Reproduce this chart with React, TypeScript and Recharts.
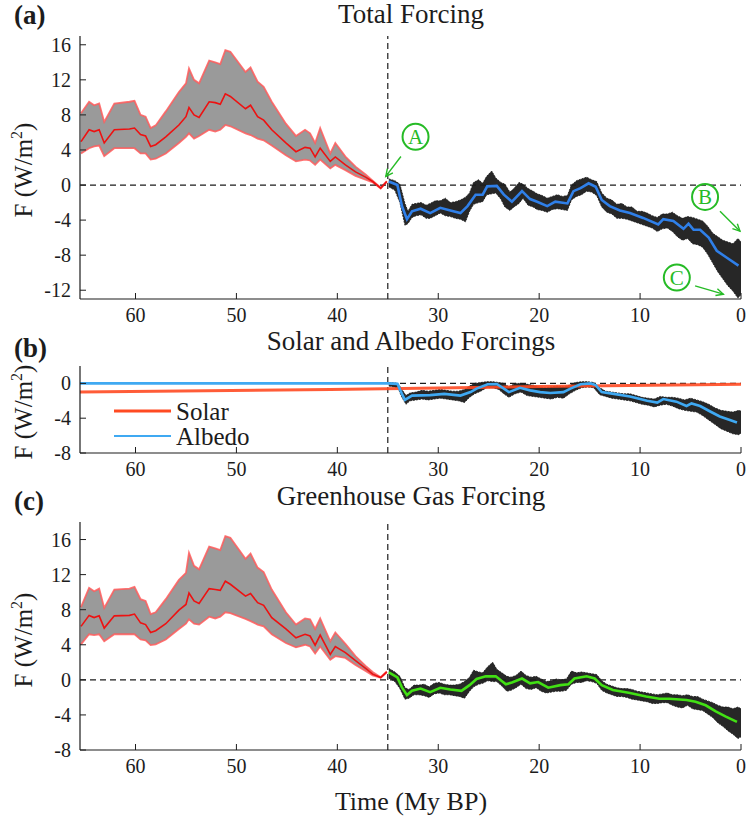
import {
  Area, ComposedChart, Line, ReferenceDot, ReferenceLine, XAxis, YAxis,
} from "recharts";

const SERIF = "'Liberation Serif', 'Times New Roman', serif";
const INK = "#1c1c1c";
const GREEN = "#26bb26";
const W = 746;

// ---- shared x grid (My BP) ----
const xTicks = [0, 10, 20, 30, 40, 50, 60];

// ---- 66–35 My: probabilistic band (shared time points for a and c) ----
const redT = [65.4, 64.6, 64.1, 63.6, 63.1, 62.1, 60.6, 60.1, 59.5, 59.0, 58.5, 58.0, 57.0, 55.7, 55.0, 54.7, 54.2, 53.7, 52.7, 52.1, 51.6, 51.1, 50.6, 49.1, 48.6, 47.9, 47.3, 46.5, 45.1, 44.1, 43.2, 42.7, 42.2, 41.7, 40.7, 40.2, 39.2, 38.2, 37.2, 36.5, 35.7, 35.1];

const totHi = [8.2, 9.5, 9.1, 9.3, 7.2, 9.3, 9.5, 9.6, 8.0, 7.8, 6.5, 6.8, 8.4, 10.6, 11.6, 13.3, 12.0, 11.6, 14.2, 14.0, 13.8, 15.4, 15.2, 12.9, 13.4, 11.8, 11.2, 9.5, 7.0, 5.6, 6.3, 5.9, 4.8, 6.5, 3.6, 4.8, 3.25, 2.1, 1.2, 0.5, -0.3, 0.45];
const totMean = [4.95, 6.3, 6.1, 6.3, 4.8, 6.3, 6.4, 6.5, 5.75, 5.6, 4.4, 4.6, 5.5, 6.85, 7.8, 8.85, 8.0, 7.7, 9.5, 9.4, 9.2, 10.4, 10.1, 8.7, 9.1, 7.8, 7.4, 6.3, 4.8, 3.8, 4.3, 4.2, 3.2, 4.2, 2.7, 3.2, 2.3, 1.5, 0.9, 0.4, -0.35, 0.4];
const totLo = [3.6, 4.2, 4.4, 4.5, 3.3, 4.2, 4.2, 4.2, 3.6, 3.6, 2.9, 3.0, 3.6, 4.8, 5.5, 5.9, 5.3, 5.6, 6.3, 6.1, 6.3, 6.85, 6.7, 5.9, 5.7, 5.3, 5.1, 4.5, 3.4, 2.7, 2.9, 2.8, 2.3, 2.9, 1.9, 2.3, 1.7, 1.05, 0.6, 0.3, -0.4, 0.35];

const ghgHi = [8.3, 10.5, 10.1, 10.4, 8.2, 10.3, 10.4, 10.6, 9.2, 9.0, 7.5, 7.7, 9.2, 11.4, 12.2, 14.5, 13.0, 12.6, 15.2, 15.0, 14.8, 16.4, 16.2, 13.8, 14.4, 12.8, 12.3, 10.3, 7.7, 6.3, 7.0, 6.9, 5.8, 7.0, 4.4, 5.4, 4.1, 2.7, 1.6, 0.9, 0.3, 0.95];
const ghgMean = [6.1, 7.35, 7.1, 7.3, 5.9, 7.3, 7.35, 7.5, 6.5, 6.3, 5.4, 5.6, 6.4, 7.95, 8.6, 9.9, 9.0, 8.7, 10.4, 10.3, 10.2, 11.25, 10.9, 9.55, 9.85, 8.8, 8.5, 7.1, 5.8, 4.8, 5.2, 5.0, 3.95, 5.1, 2.9, 3.8, 3.1, 2.2, 1.3, 0.65, 0.27, 0.9];
const ghgLo = [4.05, 5.2, 5.1, 5.2, 4.4, 5.2, 5.2, 5.2, 4.6, 4.5, 3.96, 4.05, 4.6, 5.8, 6.4, 6.9, 6.4, 6.3, 7.2, 7.0, 7.2, 7.7, 7.6, 6.95, 6.7, 6.3, 6.1, 5.2, 4.2, 3.7, 4.0, 3.8, 3.0, 3.8, 2.3, 2.7, 2.5, 1.7, 1.0, 0.5, 0.25, 0.85];

// ---- 35–0 My: scatter envelope (black) ----
const totNoiseT = [34.9, 34.3, 33.8, 33.3, 33.0, 32.6, 32.2, 31.7, 31.2, 30.8, 30.3, 29.8, 29.3, 28.8, 28.3, 27.8, 27.3, 26.9, 26.5, 26.0, 25.6, 25.2, 24.7, 24.3, 23.8, 23.4, 22.9, 22.5, 22.0, 21.6, 21.1, 20.6, 20.2, 19.7, 19.2, 18.7, 18.2, 17.7, 17.2, 16.8, 16.3, 15.8, 15.3, 14.8, 14.3, 13.8, 13.3, 12.8, 12.3, 11.8, 11.3, 10.8, 10.3, 9.8, 9.3, 8.8, 8.3, 7.8, 7.3, 6.8, 6.3, 5.8, 5.3, 4.8, 4.3, 3.8, 3.3, 2.8, 2.3, 1.8, 1.3, 0.8, 0.3, 0];
const totNoiseLo = [-0.2, -0.6, -2.0, -4.6, -4.4, -3.7, -3.5, -3.4, -3.8, -3.8, -3.5, -3.2, -3.5, -3.6, -3.8, -3.9, -4.2, -3.0, -2.2, -2.0, -1.9, -1.1, -1.0, -0.9, -1.6, -2.5, -2.9, -2.5, -2.1, -1.5, -2.3, -2.5, -2.8, -2.9, -3.1, -2.8, -2.7, -2.8, -2.9, -1.7, -1.3, -1.1, -0.7, -0.8, -1.2, -2.5, -3.1, -3.3, -3.8, -3.8, -3.9, -4.1, -4.3, -4.5, -4.7, -4.9, -5.3, -5.0, -4.9, -5.3, -5.9, -6.3, -6.1, -6.7, -6.8, -7.1, -7.9, -8.9, -9.9, -10.7, -11.5, -12.1, -12.9, -12.5];
const totNoiseHi = [0.7, 0.5, 0.1, -2.1, -3.0, -2.2, -2.1, -2.0, -2.3, -2.1, -1.8, -1.8, -1.5, -2.0, -1.9, -1.7, -1.4, -0.9, 0.3, 0.6, 0.2, 1.0, 1.6, 0.8, 0.3, 0.1, -0.8, -0.4, 0.3, 0.1, -0.4, -0.7, -1.0, -1.2, -1.5, -1.3, -1.1, -1.3, -1.2, 0.0, 0.5, 0.7, 0.9, 0.6, 0.4, -0.9, -1.5, -1.7, -2.2, -2.1, -2.5, -2.5, -3.0, -3.0, -3.2, -3.5, -3.7, -3.3, -3.3, -3.1, -3.5, -3.8, -3.6, -3.7, -3.9, -4.1, -4.7, -5.5, -5.9, -6.3, -6.5, -6.7, -6.1, -6.5];

const albNoiseT = [34.9, 34.0, 33.6, 33.2, 32.8, 32.2, 31.6, 31.0, 30.4, 29.8, 29.2, 28.6, 28.0, 27.4, 26.9, 26.4, 25.8, 25.2, 24.6, 24.0, 23.5, 23.0, 22.4, 21.8, 21.2, 20.6, 20.0, 19.4, 18.8, 18.2, 17.6, 17.0, 16.4, 15.8, 15.2, 14.6, 14.0, 13.4, 12.8, 12.2, 11.6, 11.0, 10.4, 9.8, 9.2, 8.6, 8.0, 7.4, 6.8, 6.2, 5.6, 5.0, 4.4, 3.8, 3.2, 2.6, 2.0, 1.4, 0.8, 0.2, 0];
const albNoiseLo = [-0.3, -0.5, -1.6, -2.4, -2.0, -1.9, -1.8, -1.9, -1.8, -1.7, -1.8, -1.9, -2.0, -2.2, -1.6, -1.2, -0.9, -0.5, -0.5, -0.7, -1.2, -1.6, -1.2, -1.0, -1.4, -1.5, -1.6, -1.7, -1.8, -1.6, -1.7, -1.2, -0.8, -0.5, -0.4, -0.5, -1.3, -1.5, -1.7, -1.8, -1.9, -2.0, -2.2, -2.4, -2.5, -2.7, -2.5, -2.4, -2.6, -2.9, -3.1, -3.2, -3.3, -3.7, -4.2, -4.7, -5.2, -5.5, -5.8, -5.9, -5.7];
const albNoiseHi = [0.1, 0.0, -0.7, -1.4, -1.1, -1.0, -0.8, -0.9, -0.8, -0.7, -0.8, -0.9, -0.9, -0.7, -0.3, 0.0, 0.1, 0.2, 0.2, 0.1, 0.0, -0.4, 0.0, 0.0, -0.1, -0.2, -0.4, -0.5, -0.4, -0.3, -0.4, -0.2, 0.1, 0.2, 0.2, 0.1, -0.5, -0.9, -1.0, -1.1, -1.2, -1.2, -1.4, -1.6, -1.7, -1.8, -1.5, -1.6, -1.6, -1.7, -1.9, -1.7, -1.9, -2.1, -2.4, -2.8, -3.1, -3.2, -3.3, -3.1, -3.2];

const ghgNoiseT = [34.9, 34.3, 33.8, 33.3, 32.9, 32.4, 31.9, 31.4, 30.9, 30.4, 29.9, 29.4, 28.9, 28.4, 27.9, 27.4, 26.9, 26.5, 26.0, 25.6, 25.1, 24.6, 24.2, 23.7, 23.2, 22.8, 22.3, 21.8, 21.3, 20.8, 20.3, 19.8, 19.3, 18.8, 18.3, 17.8, 17.3, 16.8, 16.3, 15.8, 15.3, 14.8, 14.3, 13.8, 13.3, 12.8, 12.3, 11.8, 11.3, 10.8, 10.3, 9.8, 9.3, 8.8, 8.3, 7.8, 7.3, 6.8, 6.3, 5.8, 5.3, 4.8, 4.3, 3.8, 3.3, 2.8, 2.3, 1.8, 1.3, 0.8, 0.3, 0];
const ghgNoiseLo = [0.2, -0.2, -1.0, -2.2, -2.1, -1.7, -1.7, -1.8, -2.0, -1.6, -1.5, -1.7, -1.7, -1.8, -1.9, -2.1, -1.3, -0.8, -0.5, -0.4, -0.1, -0.2, -0.2, -0.7, -1.3, -1.2, -0.9, -0.5, -1.0, -1.1, -0.9, -1.3, -1.5, -1.4, -1.3, -1.3, -1.2, -0.5, -0.3, -0.3, -0.1, -0.2, -0.4, -1.2, -1.5, -1.7, -1.9, -1.9, -2.0, -2.2, -2.3, -2.4, -2.5, -2.7, -2.7, -2.6, -2.6, -2.9, -3.1, -3.2, -2.9, -3.3, -3.4, -3.5, -3.9, -4.3, -4.9, -5.3, -5.8, -6.2, -6.7, -6.5];
const ghgNoiseHi = [1.3, 0.9, 0.4, -0.9, -1.1, -0.6, -0.6, -0.5, -0.8, -0.4, -0.3, -0.5, -0.6, -0.6, -0.5, -0.2, 0.3, 1.1, 0.9, 0.8, 1.5, 2.0, 1.2, 0.8, 0.4, 0.3, 0.5, 1.0, 0.5, 0.3, 0.4, 0.1, -0.2, -0.1, 0.1, 0.0, 0.1, 1.0, 0.8, 0.9, 0.8, 0.7, 0.6, -0.1, -0.5, -0.7, -0.9, -1.0, -1.0, -1.1, -1.3, -1.4, -1.5, -1.6, -1.7, -1.6, -1.5, -1.7, -1.7, -1.8, -1.7, -1.9, -1.9, -2.2, -2.4, -2.6, -2.9, -3.1, -3.1, -3.3, -3.1, -3.3];

// ---- 35–0 My: smoothed curves ----
const blueT = [34.9, 34.05, 33.6, 33.1, 32.6, 31.75, 30.8, 29.8, 28.8, 27.8, 27.1, 26.3, 25.6, 25.15, 24.2, 23.5, 22.7, 21.7, 20.9, 20.2, 19.2, 18.4, 17.2, 16.6, 15.9, 15.1, 14.4, 13.8, 13.0, 12.0, 11.0, 9.7, 8.2, 7.7, 6.7, 5.7, 5.2, 4.7, 4.05, 3.2, 2.4, 1.4, 0.25];
const totalSmooth = [0.4, 0.0, -2.4, -3.9, -3.0, -2.7, -3.2, -2.6, -2.9, -3.2, -2.4, -1.1, -1.1, -0.15, -0.1, -1.1, -1.9, -0.7, -1.6, -1.9, -2.4, -1.9, -2.1, -0.7, -0.35, 0.2, -0.2, -1.7, -2.4, -2.9, -3.2, -3.75, -4.5, -3.9, -4.1, -5.0, -4.4, -5.1, -5.1, -6.0, -7.5, -8.3, -9.2];

const albT = [65.5, 35.0, 34.05, 33.6, 33.3, 32.6, 30.8, 29.4, 27.8, 26.8, 26.2, 25.1, 24.2, 23.5, 23.0, 21.9, 20.9, 19.9, 18.9, 17.6, 16.9, 15.9, 14.9, 14.4, 13.8, 12.6, 11.0, 9.3, 8.3, 7.7, 6.4, 5.4, 4.9, 4.05, 3.1, 2.1, 1.1, 0.4];
const albedo = [0, 0, -0.05, -1.2, -1.9, -1.4, -1.35, -1.2, -1.4, -1.0, -0.6, -0.1, -0.07, -0.6, -1.0, -0.5, -0.8, -1.0, -1.1, -1.0, -0.6, -0.1, 0, -0.2, -1.0, -1.2, -1.5, -2.0, -2.2, -1.8, -2.1, -2.6, -2.3, -2.6, -3.2, -3.8, -4.2, -4.5];

const solarT = [65.5, 40.7, 20, 0];
const solar = [-1.0, -0.7, -0.37, -0.1];

const greenT = [34.9, 34.05, 33.6, 33.1, 32.6, 31.75, 30.8, 29.8, 28.8, 27.7, 26.9, 26.2, 25.3, 24.3, 23.3, 22.7, 21.7, 20.9, 20.1, 19.1, 17.9, 17.1, 16.5, 15.3, 14.5, 13.8, 12.7, 11.0, 9.4, 8.1, 7.1, 5.4, 4.5, 3.5, 2.5, 1.5, 0.4];
const ghgSmooth = [0.84, 0.27, -0.86, -1.74, -1.25, -1.0, -1.4, -0.9, -1.1, -1.25, -0.6, 0.1, 0.4, 0.4, -0.5, -0.3, 0.15, -0.4, -0.25, -0.9, -0.6, -0.5, 0.15, 0.4, 0.15, -0.6, -1.15, -1.5, -1.9, -2.15, -2.15, -2.3, -2.5, -2.9, -3.6, -4.2, -4.8];

// ---- annotations on panel (a): circled letter + arrow, in data coords ----
const markLabels = ["A", "B", "C"];
const markAt = [[32.25, 5.5], [3.56, -1.36], [6.36, -10.56]];
const arrowFrom = [[33.7, 3.25], [2.08, -3.0], [4.55, -11.5]];
const arrowTo = [[35.2, 0.98], [0.1, -5.27], [1.75, -12.45]];

const band = (t: number[], lo: number[], hi: number[], mean?: number[]) =>
  t.map((x, i) => ({ t: x, band: [lo[i], hi[i]], mean: mean ? mean[i] : null }));
const series = (t: number[], v: number[]) => t.map((x, i) => ({ t: x, v: v[i] }));

// inward ticks on all four sides, labels outside
const BottomTick = (p: any) => (
  <g>
    <line x1={p.x} x2={p.x} y1={p.y} y2={p.y - 6} stroke={INK} />
    <text x={p.x} y={p.y + 23} textAnchor="middle" fontSize={20} fontFamily={SERIF} fill={INK}>
      {p.payload.value}
    </text>
  </g>
);
const TopTick = (p: any) => <line x1={p.x} x2={p.x} y1={p.y} y2={p.y + 6} stroke={INK} />;
const LeftTick = (p: any) => (
  <g>
    <line x1={p.x} x2={p.x + 6} y1={p.y} y2={p.y} stroke={INK} />
    <text x={p.x - 9} y={p.y + 7} textAnchor="end" fontSize={20} fontFamily={SERIF} fill={INK}>
      {p.payload.value}
    </text>
  </g>
);
const RightTick = (p: any) => <line x1={p.x} x2={p.x - 6} y1={p.y} y2={p.y} stroke={INK} />;

const Arrow = (p: any) => {
  const { x1, y1, x2, y2 } = p;
  const a = Math.atan2(y2 - y1, x2 - x1);
  const L = 8;
  const h1 = `${x2 - L * Math.cos(a - 0.45)},${y2 - L * Math.sin(a - 0.45)}`;
  const h2 = `${x2 - L * Math.cos(a + 0.45)},${y2 - L * Math.sin(a + 0.45)}`;
  return (
    <g>
      <line x1={x1} y1={y1} x2={x2} y2={y2} stroke={GREEN} strokeWidth={1.4} />
      <polyline points={`${h1} ${x2},${y2} ${h2}`} fill="none" stroke={GREEN} strokeWidth={1.4} />
    </g>
  );
};

const frame = (domain: [number, number], ticks: number[]) => [
  <XAxis key="xb" xAxisId={0} dataKey="t" type="number" domain={[0, 65.5]} reversed allowDataOverflow
    ticks={xTicks} interval={0} tickSize={0} tickMargin={0} tickLine={false} tick={BottomTick}
    axisLine={{ stroke: INK, strokeWidth: 1.2 }} height={25} />,
  <XAxis key="xt" xAxisId="top" orientation="top" dataKey="t" type="number" domain={[0, 65.5]} reversed allowDataOverflow
    ticks={xTicks} interval={0} tickSize={0} tickMargin={0} tickLine={false} tick={TopTick}
    axisLine={{ stroke: INK, strokeWidth: 1.2 }} height={0} />,
  <YAxis key="yl" yAxisId={0} type="number" domain={domain} allowDataOverflow ticks={ticks} interval={0}
    tickSize={0} tickMargin={0} tickLine={false} tick={LeftTick}
    axisLine={{ stroke: INK, strokeWidth: 1.2 }} width={80} />,
  <YAxis key="yr" yAxisId="right" orientation="right" type="number" domain={domain} allowDataOverflow ticks={ticks}
    interval={0} tickSize={0} tickMargin={0} tickLine={false} tick={RightTick}
    axisLine={{ stroke: INK, strokeWidth: 1.2 }} width={0} />,
  <ReferenceLine key="h0" y={0} stroke={INK} strokeDasharray="6 4" strokeWidth={1.2} />,
  <ReferenceLine key="v35" x={35} stroke={INK} strokeDasharray="6 4" strokeWidth={1.2} />,
];

const redBand = (rows: any[]) => [
  <Area key="rb" data={rows} dataKey="band" type="linear" fill="#9a9a9a" fillOpacity={1}
    stroke="#ff5c5c" strokeWidth={1.8} strokeOpacity={0.85} isAnimationActive={false} />,
  <Line key="rm" data={rows} dataKey="mean" type="linear" stroke="#ee1111" strokeWidth={1.6}
    dot={false} isAnimationActive={false} />,
];
const noise = (rows: any[]) => (
  <Area key="nz" data={rows} dataKey="band" type="linear" fill="#151515" fillOpacity={0.92}
    stroke="#151515" strokeWidth={0.8} strokeDasharray="2 1" isAnimationActive={false} />
);

export default function App() {
  const rowsA = band(redT, totLo, totHi, totMean);
  const rowsC = band(redT, ghgLo, ghgHi, ghgMean);

  return (
    <div style={{ position: "absolute", left: 0, top: 0, width: W, height: 820, background: "#fff" }}>
      {/* (a) Total forcing */}
      <div style={{ position: "absolute", left: 0, top: 0 }}>
        <ComposedChart width={W} height={340} margin={{ top: 36, right: 5, bottom: 16, left: 0 }}>
          {frame([-13, 17], [-12, -8, -4, 0, 4, 8, 12, 16])}
          {redBand(rowsA)}
          {noise(band(totNoiseT, totNoiseLo, totNoiseHi))}
          <Line data={series(blueT, totalSmooth)} dataKey="v" type="linear" stroke="#2f7fe8" strokeWidth={2.6}
            dot={false} isAnimationActive={false} />
          {markLabels.map((m, i) => (
            <ReferenceLine key={"ar" + m} segment={[{ x: arrowFrom[i][0], y: arrowFrom[i][1] }, { x: arrowTo[i][0], y: arrowTo[i][1] }]}
              shape={Arrow} ifOverflow="visible" />
          ))}
          {markLabels.map((m, i) => (
            <ReferenceDot key={"mk" + m} x={markAt[i][0]} y={markAt[i][1]} r={13} ifOverflow="visible"
              shape={(p: any) => (
                <g>
                  <circle cx={p.cx} cy={p.cy} r={13} fill="none" stroke={GREEN} strokeWidth={2} />
                  <text x={p.cx} y={p.cy + 7.5} textAnchor="middle" fontSize={21} fontFamily={SERIF} fill={GREEN}>{m}</text>
                </g>
              )} />
          ))}
        </ComposedChart>
      </div>

      {/* (b) Solar and albedo */}
      <div style={{ position: "absolute", left: 0, top: 320 }}>
        <ComposedChart width={W} height={178} margin={{ top: 46, right: 5, bottom: 20, left: 0 }}>
          {frame([-8, 2], [-8, -4, 0])}
          {noise(band(albNoiseT, albNoiseLo, albNoiseHi))}
          <Line data={series(solarT, solar)} dataKey="v" type="linear" stroke="#ff4a22" strokeWidth={3}
            strokeOpacity={0.9} dot={false} isAnimationActive={false} />
          <Line data={series(albT, albedo)} dataKey="v" type="linear" stroke="#3fa9f2" strokeWidth={2.6}
            dot={false} isAnimationActive={false} />
        </ComposedChart>
      </div>

      {/* (c) Greenhouse gas */}
      <div style={{ position: "absolute", left: 0, top: 475 }}>
        <ComposedChart width={W} height={310} margin={{ top: 47, right: 5, bottom: 10, left: 0 }}>
          {frame([-8, 18], [-8, -4, 0, 4, 8, 12, 16])}
          {redBand(rowsC)}
          {noise(band(ghgNoiseT, ghgNoiseLo, ghgNoiseHi))}
          <Line data={series(greenT, ghgSmooth)} dataKey="v" type="linear" stroke="#42e014" strokeWidth={2.6}
            dot={false} isAnimationActive={false} />
        </ComposedChart>
      </div>

      {/* titles, axis labels, legend */}
      <svg width={W} height={820} style={{ position: "absolute", left: 0, top: 0, pointerEvents: "none" }}
        fontFamily={SERIF} fill={INK}>
        <text x={14} y={24} fontSize={27} fontWeight="bold">(a)</text>
        <text x={411} y={23} fontSize={27} textAnchor="middle">Total Forcing</text>
        <text x={14} y={357} fontSize={27} fontWeight="bold">(b)</text>
        <text x={411} y={350} fontSize={27} textAnchor="middle">Solar and Albedo Forcings</text>
        <text x={14} y={510} fontSize={27} fontWeight="bold">(c)</text>
        <text x={411} y={505} fontSize={27} textAnchor="middle">Greenhouse Gas Forcing</text>
        <text x={411} y={810} fontSize={26} textAnchor="middle">Time (My BP)</text>

        {[170, 412, 640].map((cy) => (
          <text key={cy} transform={`translate(32,${cy}) rotate(-90)`} fontSize={25} textAnchor="middle">
            F (W/m<tspan fontSize={16} dy={-10}>2</tspan><tspan dy={10}>)</tspan>
          </text>
        ))}

        <line x1={114} x2={171} y1={411} y2={411} stroke="#ff4a22" strokeWidth={3} />
        <text x={176} y={420} fontSize={25}>Solar</text>
        <line x1={114} x2={171} y1={436} y2={436} stroke="#3fa9f2" strokeWidth={2} />
        <text x={176} y={445} fontSize={25}>Albedo</text>
      </svg>
    </div>
  );
}
